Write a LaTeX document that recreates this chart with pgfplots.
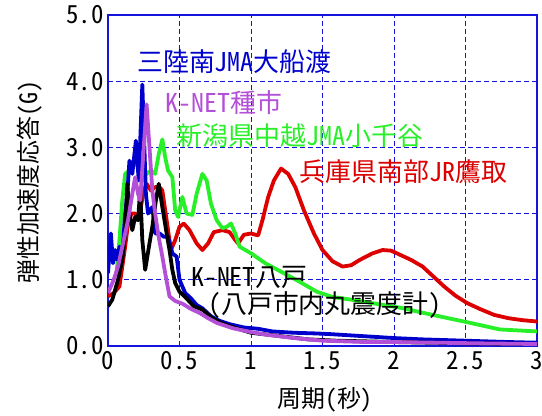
\documentclass[border=0pt]{standalone}
\usepackage{fontspec}
\setmainfont{Noto Sans CJK JP}[RawFeature=+hwid]
\usepackage{pgfplots}
\pgfplotsset{compat=1.18}
\definecolor{cblue}{RGB}{0,0,205}
\definecolor{gblue}{RGB}{20,20,220}
\definecolor{cpurple}{RGB}{180,80,215}
\definecolor{cgreen}{RGB}{40,240,40}
\definecolor{cred}{RGB}{220,0,0}
\begin{document}
\begin{tikzpicture}
\begin{axis}[name=ax,
  width=429bp, height=331bp, scale only axis,
  xmin=0, xmax=3, ymin=0, ymax=5,
  xtick={0,0.5,1,1.5,2,2.5,3}, xticklabels={0,0.5,1,1.5,2,2.5,3},
  ytick={0,1,2,3,4,5}, yticklabels={0.0,1.0,2.0,3.0,4.0,5.0},
  major tick length=0pt,
  grid=major,
  major grid style={gblue, line width=0.8bp, dash pattern=on 5bp off 3bp},
  axis line style={gblue, line width=1.1bp},
  tick label style={font=\fontsize{25}{25}\selectfont},
  xticklabel style={yshift=-2bp},
  yticklabel style={xshift=-1bp},
  xlabel={周期(秒)}, ylabel={弾性加速度応答(G)},
  label style={font=\fontsize{24}{24}\selectfont},
  xlabel style={at={(axis description cs:0.506,-0.163)}, anchor=center},
  ylabel style={at={(axis description cs:-0.182,0.495)}, anchor=center},
  every axis plot/.append style={line width=3.8bp, line join=round},
]
% red: Hyogo JR Takatori
\addplot[cred] coordinates {(0,0.75) (0.04,0.8) (0.08,0.9) (0.1,1.2) (0.12,1.5) (0.14,1.85) (0.165,2.0) (0.19,2.0) (0.21,1.95) (0.23,2.1) (0.25,2.35) (0.27,2.45) (0.3,2.35) (0.33,2.4) (0.36,2.4) (0.38,2.35) (0.41,1.9) (0.44,1.45) (0.47,1.6) (0.5,1.8) (0.53,1.85) (0.57,1.75) (0.62,1.55) (0.66,1.45) (0.7,1.55) (0.74,1.72) (0.8,1.75) (0.85,1.72) (0.89,1.6) (0.91,1.55) (0.95,1.68) (1.0,1.7) (1.05,1.67) (1.08,1.9) (1.12,2.25) (1.16,2.5) (1.21,2.68) (1.26,2.6) (1.31,2.4) (1.37,2.05) (1.44,1.7) (1.5,1.45) (1.57,1.28) (1.64,1.2) (1.7,1.22) (1.76,1.3) (1.85,1.4) (1.92,1.45) (1.98,1.44) (2.05,1.37) (2.12,1.3) (2.2,1.2) (2.27,1.06) (2.35,0.9) (2.43,0.76) (2.51,0.65) (2.6,0.56) (2.7,0.47) (2.8,0.42) (2.9,0.39) (3.0,0.37)};
% green: Niigata Ojiya
\addplot[cgreen] coordinates {(0.06,1.1) (0.08,1.6) (0.1,2.2) (0.12,2.6) (0.15,2.65) (0.18,2.8) (0.21,2.7) (0.24,2.5) (0.27,2.6) (0.3,2.65) (0.33,2.6) (0.355,2.9) (0.38,3.12) (0.4,2.85) (0.42,2.65) (0.45,2.55) (0.47,2.05) (0.49,1.95) (0.52,2.25) (0.55,2.0) (0.59,1.98) (0.62,2.3) (0.66,2.6) (0.69,2.5) (0.72,2.15) (0.76,1.9) (0.8,1.78) (0.83,1.8) (0.86,1.85) (0.89,1.7) (0.92,1.5) (1.0,1.4) (1.1,1.25) (1.23,1.1) (1.34,0.97) (1.46,0.82) (1.57,0.74) (1.7,0.7) (1.81,0.66) (2.04,0.58) (2.27,0.47) (2.51,0.36) (2.74,0.25) (3.0,0.22)};
% blue: Sanriku Ofunato
\addplot[cblue] coordinates {(0,1.1) (0.02,1.7) (0.035,1.25) (0.05,1.45) (0.065,1.3) (0.08,1.5) (0.1,1.4) (0.12,2.0) (0.135,2.3) (0.15,2.8) (0.17,2.6) (0.195,3.1) (0.215,2.5) (0.24,3.95) (0.265,2.3) (0.28,2.0) (0.31,2.1) (0.33,1.7) (0.36,1.7) (0.39,1.65) (0.42,1.65) (0.45,1.4) (0.48,1.35) (0.5,1.0) (0.54,0.8) (0.58,0.72) (0.62,0.62) (0.66,0.57) (0.72,0.45) (0.78,0.38) (0.85,0.33) (0.95,0.28) (1.05,0.26) (1.15,0.22) (1.3,0.2) (1.45,0.19) (1.55,0.18) (1.7,0.16) (1.85,0.14) (2.0,0.12) (2.2,0.1) (2.5,0.08) (2.8,0.06) (3.0,0.05)};
% black: K-NET Hachinohe
\addplot[black] coordinates {(0,0.6) (0.03,0.7) (0.07,1.0) (0.1,1.3) (0.12,1.7) (0.135,2.45) (0.15,2.0) (0.17,1.75) (0.19,1.95) (0.21,1.9) (0.225,2.35) (0.24,1.6) (0.26,1.15) (0.29,1.55) (0.31,1.8) (0.335,2.2) (0.355,2.45) (0.38,2.1) (0.41,1.7) (0.43,1.45) (0.45,1.15) (0.47,0.95) (0.5,0.82) (0.54,0.74) (0.6,0.6) (0.66,0.55) (0.73,0.42) (0.8,0.34) (0.88,0.28) (1.0,0.2) (1.2,0.15) (1.4,0.1) (1.6,0.08) (1.8,0.07) (2.0,0.06) (2.5,0.04) (3.0,0.03)};
% purple: K-NET Tanesichi
\addplot[cpurple] coordinates {(0,0.8) (0.04,1.0) (0.07,1.2) (0.1,1.5) (0.14,1.9) (0.17,2.3) (0.19,2.55) (0.21,2.3) (0.225,2.2) (0.25,3.0) (0.27,3.65) (0.29,3.0) (0.31,2.35) (0.33,2.0) (0.35,1.7) (0.38,1.35) (0.40,1.1) (0.43,0.75) (0.47,0.68) (0.52,0.64) (0.58,0.56) (0.64,0.5) (0.7,0.42) (0.76,0.35) (0.87,0.27) (1.0,0.21) (1.11,0.17) (1.3,0.12) (1.5,0.08) (1.8,0.06) (2.0,0.06) (2.3,0.05) (2.6,0.04) (3.0,0.03)};
\node[anchor=west, inner sep=0, text=cblue, font=\fontsize{26}{26}\selectfont] at (axis cs:0.203,4.29) {三陸南JMA大船渡};
\node[anchor=west, inner sep=0, text=cpurple, font=\fontsize{26}{26}\selectfont] at (axis cs:0.40,3.67) {K-NET種市};
\node[anchor=west, inner sep=0, text=cgreen, font=\fontsize{26}{26}\selectfont] at (axis cs:0.48,3.17) {新潟県中越JMA小千谷};
\node[anchor=west, inner sep=0, text=cred, font=\fontsize{26}{26}\selectfont] at (axis cs:1.34,2.63) {兵庫県南部JR鷹取};
\node[anchor=west, inner sep=0, text=black, font=\fontsize{26}{26}\selectfont] at (axis cs:0.58,1.03) {K-NET八戸};
\node[anchor=west, inner sep=0, text=black, font=\fontsize{26}{26}\selectfont] at (axis cs:0.70,0.62) {(八戸市内丸震度計)};
\end{axis}
\pgfresetboundingbox
\path[use as bounding box] ([xshift=-108bp,yshift=-70bp]ax.south west) rectangle ([xshift=5bp,yshift=15bp]ax.north east);
\end{tikzpicture}
\end{document}
